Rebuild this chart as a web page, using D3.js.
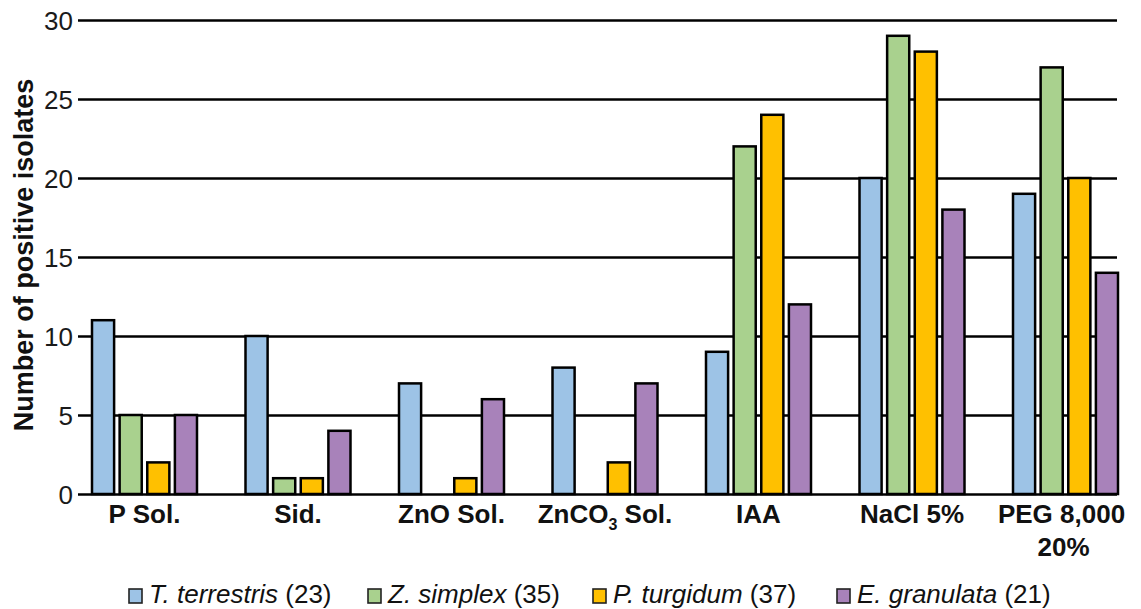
<!DOCTYPE html>
<html><head><meta charset="utf-8">
<script src="https://cdn.jsdelivr.net/npm/d3@7"></script>
<style>body{margin:0;background:#fff}svg{display:block}</style>
</head><body>
<svg id="c" width="1141" height="609"></svg>
<script>
const categories = ["P Sol.", "Sid.", "ZnO Sol.", "ZnCO3 Sol.", "IAA", "NaCl 5%", "PEG 8,000 20%"];
const seriesNames = ["T. terrestris", "Z. simplex", "P. turgidum", "E. granulata"];
const seriesCounts = ["(23)", "(35)", "(37)", "(21)"];
const tTerrestris = [11, 10, 7, 8, 9, 20, 19];
const zSimplex = [5, 1, 0, 0, 22, 29, 27];
const pTurgidum = [2, 1, 1, 2, 24, 28, 20];
const eGranulata = [5, 4, 6, 7, 12, 18, 14];
const yTicks = [0, 5, 10, 15, 20, 25, 30];
const colors = ["#9DC3E6", "#A9D18E", "#FFC000", "#A882BA"];

const series = [tTerrestris, zSimplex, pTurgidum, eGranulata];
const svg = d3.select("#c");
const font = "Liberation Sans, Arial, sans-serif";

const y = d3.scaleLinear().domain([0, 30]).range([494, 20]);
const x0 = d3.scaleBand().domain(categories).range([92, 1118]).paddingInner(0.316).paddingOuter(0);
const x1 = d3.scaleBand().domain(d3.range(4)).range([0, x0.bandwidth()]).paddingInner(0.2).paddingOuter(0);

// gridlines
const yAxis = d3.axisLeft(y).tickValues(yTicks).tickSize(-(1117 - 78)).tickPadding(5).tickSizeOuter(0);
const gy = svg.append("g").attr("transform", "translate(78,0)").call(yAxis);
gy.select(".domain").remove();
gy.selectAll(".tick line").attr("stroke", "#000").attr("stroke-width", 2.5);
gy.selectAll(".tick text").attr("font-family", font).attr("font-size", 26).attr("fill", "#1a1a1a").attr("dy", "0.36em");

// bars
const groups = svg.append("g").selectAll("g").data(categories).join("g")
  .attr("transform", d => `translate(${x0(d)},0)`);
groups.selectAll("rect").data((d, i) => series.map((s, k) => ({k, v: s[i]}))).join("rect")
  .filter(d => d.v > 0)
  .attr("x", d => x1(d.k)).attr("width", x1.bandwidth())
  .attr("y", d => y(d.v)).attr("height", d => y(0) - y(d.v))
  .attr("fill", d => colors[d.k]).attr("stroke", "#000").attr("stroke-width", 2.5);

// category labels
const lab = svg.append("g").attr("font-family", font).attr("font-size", 26).attr("font-weight", "bold").attr("fill", "#111").attr("text-anchor", "middle");
categories.forEach(c => {
  const cx = x0(c) + x0.bandwidth() / 2;
  const t = lab.append("text").attr("x", cx).attr("y", 523);
  if (c === "ZnCO3 Sol.") {
    t.append("tspan").text("ZnCO");
    t.append("tspan").text("3").attr("font-size", 16).attr("dy", 7);
    t.append("tspan").text(" Sol.").attr("dy", -7);
  } else if (c === "PEG 8,000 20%") {
    t.attr("x", cx - 4).text("PEG 8,000");
    lab.append("text").attr("x", cx - 2).attr("y", 556).text("20%");
  } else {
    t.text(c);
  }
});

// y title
svg.append("text").attr("transform", "translate(33,255) rotate(-90)").attr("text-anchor", "middle")
  .attr("font-family", font).attr("font-size", 27).attr("font-weight", "bold").attr("fill", "#111")
  .text("Number of positive isolates");

// legend
const leg = svg.append("g").attr("font-family", font).attr("font-size", 26).attr("fill", "#111");
const legX = [129, 368, 593, 837];
seriesNames.forEach((n, i) => {
  leg.append("rect").attr("x", legX[i]).attr("y", 589).attr("width", 13).attr("height", 14)
    .attr("fill", colors[i]).attr("stroke", "#222").attr("stroke-width", 1.6);
  const t = leg.append("text").attr("x", legX[i] + 20).attr("y", 603);
  t.append("tspan").attr("font-style", "italic").text(n);
  t.append("tspan").text(" " + seriesCounts[i]);
});
</script>
</body></html>
